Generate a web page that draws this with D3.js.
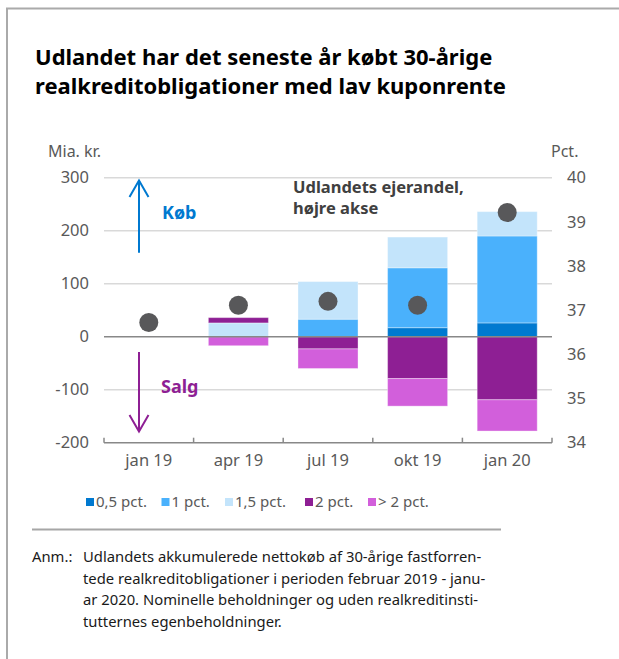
<!DOCTYPE html>
<html>
<head>
<meta charset="utf-8">
<script src="https://cdn.jsdelivr.net/npm/d3@7"></script>
<style>
  body { margin: 0; background: #fff; }
  svg { display: block; font-family: 'Noto Sans', sans-serif; }
</style>
</head>
<body>
<div id="chart"></div>
<script>
// Data
const categories = ['jan 19', 'apr 19', 'jul 19', 'okt 19', 'jan 20']
const seriesNames = ['0,5 pct.', '1 pct.', '1,5 pct.', '2 pct.', '> 2 pct.']
const seriesColors = ['#0079d0', '#4ab1fc', '#c3e4fb', '#8e1f94', '#d25fdb']
const coupon05 = [0, 0, 0, 17, 26]
const coupon1 = [0, 0, 33, 113, 164]
const coupon15 = [0, 26, 71, 58, 46]
const coupon2 = [0, 10, -23, -79, -119]
const couponOver2 = [0, -17, -37, -52, -59]
const foreignShare = [36.72, 37.11, 37.2, 37.11, 39.21]
const leftTicks = [-200, -100, 0, 100, 200, 300]
const rightTicks = [34, 35, 36, 37, 38, 39, 40]

const width = 619
const height = 659
const plotLeft = 104
const plotRight = 552
const plotTop = 177.7
const plotBottom = 442.7

let svg = d3.select('#chart')
            .append('svg')
            .attr('width', width)
            .attr('height', height)

// Frame (top and left border)
svg.append('path')
   .attr('d', `M7,${height} V8.5 H${width}`)
   .attr('fill', 'none')
   .attr('stroke', '#aaaaaa')
   .attr('stroke-width', 2)

// Title
const title = svg.append('text')
   .attr('x', 35)
   .attr('font-size', '22px')
   .attr('font-weight', 'bold')
   .attr('fill', '#000')
title.append('tspan').attr('x', 35).attr('y', 65).text('Udlandet har det seneste år købt 30-årige')
title.append('tspan').attr('x', 35).attr('y', 94).text('realkreditobligationer med lav kuponrente')

// Table of rows for stacking
let rows = categories.map((c, i) => {
    return {
        cat: c,
        '0,5 pct.': coupon05[i],
        '1 pct.': coupon1[i],
        '1,5 pct.': coupon15[i],
        '2 pct.': coupon2[i],
        '> 2 pct.': couponOver2[i]
    }
})

let stack = d3.stack()
              .keys(seriesNames)
              .offset(d3.stackOffsetDiverging)
let stacked = stack(rows)

// Scales
let xScale = d3.scaleBand()
               .domain(categories)
               .range([plotLeft, plotRight])
               .paddingInner(0.33)
               .paddingOuter(0.165)

let yScale = d3.scaleLinear()
               .domain([-200, 300])
               .range([plotBottom, plotTop])

let yRight = d3.scaleLinear()
               .domain([34, 40])
               .range([plotBottom, plotTop])

let colorScale = d3.scaleOrdinal()
                   .domain(seriesNames)
                   .range(seriesColors)

// Gridlines
svg.append('g').selectAll('line')
   .data(leftTicks.filter((t) => t !== 0 && t !== -200))
   .enter()
   .append('line')
   .attr('x1', plotLeft)
   .attr('x2', plotRight)
   .attr('y1', (t) => yScale(t))
   .attr('y2', (t) => yScale(t))
   .attr('stroke', '#d9d9d9')
   .attr('stroke-width', 1.5)

// Axis labels
svg.append('text').attr('x', 48).attr('y', 157).attr('font-size', '16px').attr('fill', '#595959').text('Mia. kr.')
svg.append('text').attr('x', 551).attr('y', 157).attr('font-size', '16px').attr('fill', '#595959').text('Pct.')

// Left axis
let yAxis = d3.axisLeft(yScale).tickValues(leftTicks).tickSize(0).tickPadding(15)
              .tickFormat((d) => String(d))
let gLeft = svg.append('g')
   .attr('transform', `translate(${plotLeft},0)`)
   .call(yAxis)
gLeft.select('.domain').remove()
gLeft.selectAll('text').attr('font-size', '16.5px').attr('fill', '#595959').attr('font-family', "'Noto Sans', sans-serif")

// Right axis
let yAxisRight = d3.axisRight(yRight).tickValues(rightTicks).tickSize(0).tickPadding(15)
                   .tickFormat((d) => String(d))
let gRight = svg.append('g')
   .attr('transform', `translate(${plotRight},0)`)
   .call(yAxisRight)
gRight.select('.domain').remove()
gRight.selectAll('text').attr('font-size', '16.5px').attr('fill', '#595959').attr('font-family', "'Noto Sans', sans-serif")

// Bars
svg.append('g').selectAll('g')
   .data(stacked)
   .enter()
   .append('g')
   .attr('fill', (s) => colorScale(s.key))
   .selectAll('rect')
   .data((s) => s)
   .enter()
   .append('rect')
   .attr('x', (d) => xScale(d.data.cat))
   .attr('width', xScale.bandwidth())
   .attr('y', (d) => yScale(Math.max(d[0], d[1])))
   .attr('height', (d) => Math.abs(yScale(d[0]) - yScale(d[1])))
   .attr('stroke', 'rgba(255,255,255,0.35)')
   .attr('stroke-width', 1)

// Zero line
svg.append('line')
   .attr('x1', plotLeft).attr('x2', plotRight)
   .attr('y1', yScale(0)).attr('y2', yScale(0))
   .attr('stroke', '#888888')
   .attr('stroke-width', 1.5)

// Bottom axis with ticks between categories
svg.append('line')
   .attr('x1', plotLeft).attr('x2', plotRight)
   .attr('y1', plotBottom).attr('y2', plotBottom)
   .attr('stroke', '#888888')
   .attr('stroke-width', 1.5)

let tickPositions = categories.map((c) => xScale(c) - xScale.step() * xScale.paddingInner() / 2)
tickPositions.push(plotRight)
tickPositions[0] = plotLeft
svg.append('g').selectAll('line')
   .data(tickPositions)
   .enter()
   .append('line')
   .attr('x1', (x) => x).attr('x2', (x) => x)
   .attr('y1', plotBottom).attr('y2', plotBottom - 5)
   .attr('stroke', '#888888')
   .attr('stroke-width', 1.5)

let xAxis = d3.axisBottom(xScale).tickSize(0).tickPadding(12)
let gBottom = svg.append('g')
   .attr('transform', `translate(0,${plotBottom})`)
   .call(xAxis)
gBottom.select('.domain').remove()
gBottom.selectAll('text').attr('font-size', '16.5px').attr('fill', '#595959').attr('font-family', "'Noto Sans', sans-serif")

// Foreign ownership dots (right axis)
svg.append('g').selectAll('circle')
   .data(foreignShare)
   .enter()
   .append('circle')
   .attr('cx', (d, i) => xScale(categories[i]) + xScale.bandwidth() / 2)
   .attr('cy', (d) => yRight(d))
   .attr('r', 9.5)
   .attr('fill', '#58585a')

// Buy / sell arrows
const arrowX = 139
svg.append('path')
   .attr('d', `M${arrowX},252.7 V180.5 M${arrowX - 9.5},197 L${arrowX},180.5 L${arrowX + 9.5},197`)
   .attr('fill', 'none')
   .attr('stroke', '#0079d0')
   .attr('stroke-width', 2)
svg.append('text').attr('x', 162).attr('y', 219).attr('font-size', '18px').attr('font-weight', 'bold').attr('fill', '#0079d0').text('Køb')

svg.append('path')
   .attr('d', `M${arrowX},352 V431.5 M${arrowX - 9.5},415 L${arrowX},431.5 L${arrowX + 9.5},415`)
   .attr('fill', 'none')
   .attr('stroke', '#8e1f94')
   .attr('stroke-width', 2)
svg.append('text').attr('x', 161).attr('y', 393).attr('font-size', '18px').attr('font-weight', 'bold').attr('fill', '#8e1f94').text('Salg')

// Annotation
const note = svg.append('text').attr('font-size', '16.5px').attr('font-weight', 'bold').attr('fill', '#404040')
note.append('tspan').attr('x', 293).attr('y', 193).text('Udlandets ejerandel,')
note.append('tspan').attr('x', 293).attr('y', 214).text('højre akse')

// Legend
const legendX = [86, 161.5, 225, 305, 368]
let legend = svg.append('g').selectAll('g')
   .data(seriesNames)
   .enter()
   .append('g')
   .attr('transform', (d, i) => `translate(${legendX[i]},498)`)
legend.append('rect')
   .attr('width', 8).attr('height', 8)
   .attr('fill', (d) => colorScale(d))
legend.append('text')
   .attr('x', 10).attr('y', 9)
   .attr('font-size', '15px')
   .attr('fill', '#595959')
   .text((d) => d)

// Separator
svg.append('line')
   .attr('x1', 32).attr('x2', 501)
   .attr('y1', 529.5).attr('y2', 529.5)
   .attr('stroke', '#a6a6a6')
   .attr('stroke-width', 2)

// Footnote
const footLines = [
    'Udlandets akkumulerede nettokøb af 30-årige fastforren-',
    'tede realkreditobligationer i perioden februar 2019 - janu-',
    'ar 2020. Nominelle beholdninger og uden realkreditinsti-',
    'tutternes egenbeholdninger.'
]
svg.append('text').attr('x', 32).attr('y', 562).attr('font-size', '14.8px').attr('fill', '#1a1a1a').text('Anm.:')
svg.append('g').selectAll('text')
   .data(footLines)
   .enter()
   .append('text')
   .attr('x', 83)
   .attr('y', (d, i) => 562 + i * 21.7)
   .attr('font-size', '14.8px')
   .attr('fill', '#1a1a1a')
   .text((d) => d)
</script>
</body>
</html>
